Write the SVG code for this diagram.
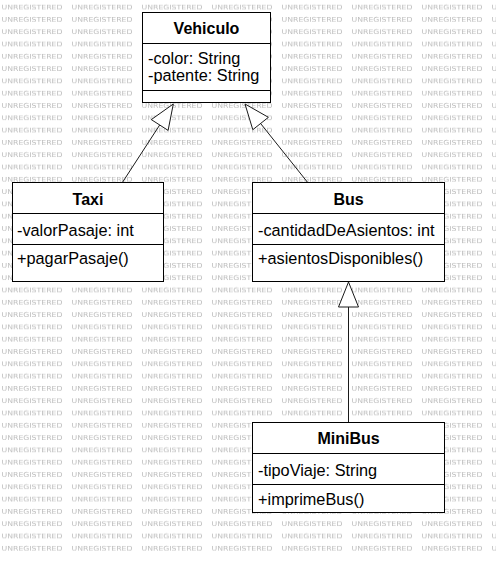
<svg xmlns="http://www.w3.org/2000/svg" width="496" height="563" viewBox="0 0 496 563">
<style>
.wm{font-family:"DejaVu Sans","Liberation Sans",sans-serif;font-size:6.6px;fill:#bcbcbc}
.box{fill:#fff;stroke:#000;stroke-width:1}
.div{stroke:#000;stroke-width:1}
.title{font-family:"Liberation Sans",Arial,sans-serif;font-size:16px;font-weight:bold;fill:#000;text-anchor:middle}
.txt{font-family:"Liberation Sans",Arial,sans-serif;font-size:16.3px;fill:#000}
.edge{stroke:#1a1a1a;stroke-width:1;fill:none}
.head{fill:#fff;stroke:#1a1a1a;stroke-width:1}
</style>
<defs>
<pattern id="wmp" x="0" y="0" width="70" height="12.3" patternUnits="userSpaceOnUse">
<text class="wm" x="1.5" y="9.6" textLength="61" lengthAdjust="spacingAndGlyphs">UNREGISTERED</text>
</pattern>
</defs>
<rect x="0" y="0" width="496" height="563" fill="#fff"/>
<rect x="0" y="0" width="496" height="556" fill="url(#wmp)"/>
<g id="connectors">
<line class="edge" x1="122.7" y1="182" x2="159.7" y2="125"/>
<polygon class="head" points="173.3,104 151.3,119.6 168.1,130.4"/>
<line class="edge" x1="307.3" y1="182" x2="260.6" y2="123.5"/>
<polygon class="head" points="245,104 268.4,117.3 252.8,129.7"/>
<line class="edge" x1="348.5" y1="307" x2="348.5" y2="422.5"/>
<polygon class="head" points="348.5,282 338.5,307 358.5,307"/>
</g>
<g id="Vehiculo">
<rect class="box" x="142.5" y="12.5" width="128" height="90"/>
<line class="div" x1="142.5" y1="43.5" x2="270.5" y2="43.5"/>
<line class="div" x1="142.5" y1="90.5" x2="270.5" y2="90.5"/>
<text class="title" x="206.5" y="34">Vehiculo</text>
<text class="txt" x="148" y="64">-color: String</text>
<text class="txt" x="148" y="81">-patente: String</text>
</g>
<g id="Taxi">
<rect class="box" x="12.5" y="182.5" width="151" height="99"/>
<line class="div" x1="12.5" y1="213.5" x2="163.5" y2="213.5"/>
<line class="div" x1="12.5" y1="244.5" x2="163.5" y2="244.5"/>
<text class="title" x="88" y="205">Taxi</text>
<text class="txt" x="17" y="236">-valorPasaje: int</text>
<text class="txt" x="17" y="264">+pagarPasaje()</text>
</g>
<g id="Bus">
<rect class="box" x="252.5" y="182.5" width="192" height="99"/>
<line class="div" x1="252.5" y1="213.5" x2="444.5" y2="213.5"/>
<line class="div" x1="252.5" y1="244.5" x2="444.5" y2="244.5"/>
<text class="title" x="348.5" y="205">Bus</text>
<text class="txt" x="258" y="236">-cantidadDeAsientos: int</text>
<text class="txt" x="258" y="264">+asientosDisponibles()</text>
</g>
<g id="MiniBus">
<rect class="box" x="252.5" y="422.5" width="192" height="90"/>
<line class="div" x1="252.5" y1="453.5" x2="444.5" y2="453.5"/>
<line class="div" x1="252.5" y1="484.5" x2="444.5" y2="484.5"/>
<text class="title" x="348.5" y="444">MiniBus</text>
<text class="txt" x="258" y="476">-tipoViaje: String</text>
<text class="txt" x="258" y="505">+imprimeBus()</text>
</g>
</svg>
